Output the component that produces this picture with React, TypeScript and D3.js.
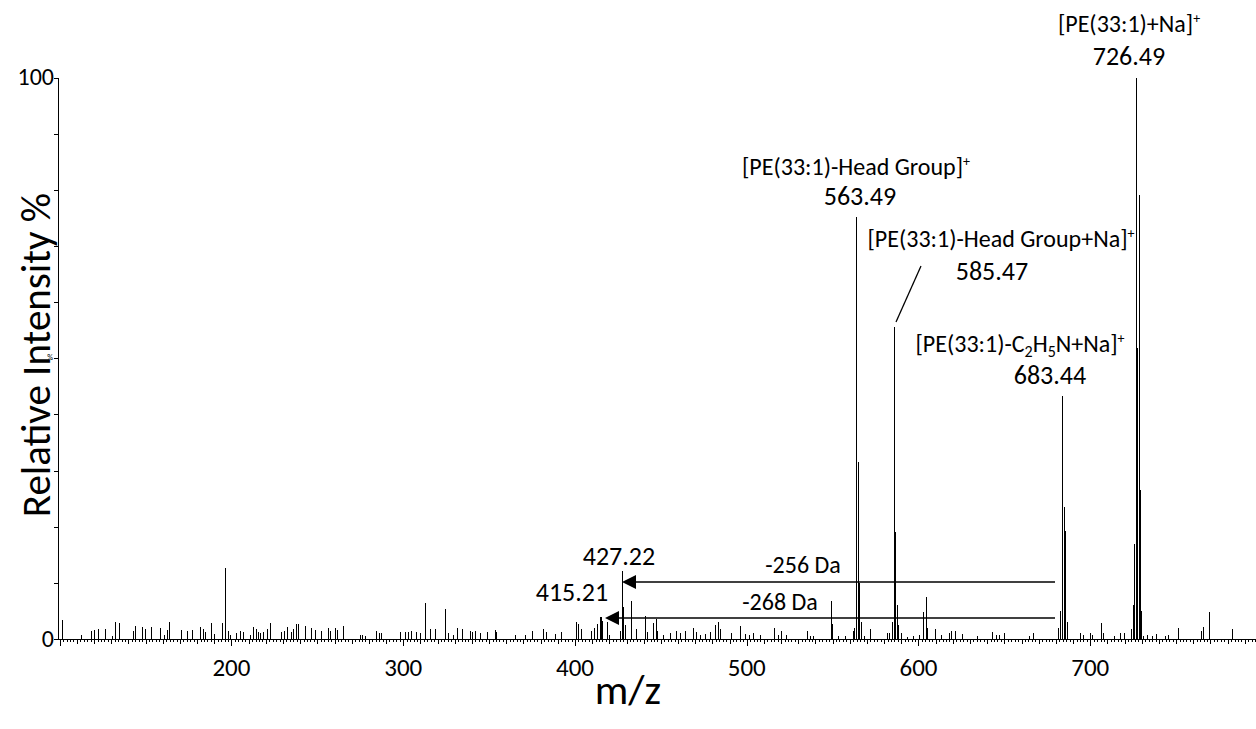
import React from "react";
import * as d3 from "d3";

// m/z and relative intensity (%) of every stick in the spectrum
const peakMz = [
  101.4, 112.2, 118.0, 120.0, 122.4, 126.3, 130.2, 132.3, 134.4, 142.4, 144.1, 148.0, 149.4, 153.4,
  158.3, 160.7, 162.2, 163.4, 170.4, 174.2, 177.1, 181.6, 183.2, 184.3, 187.8, 189.8, 194.2, 196.3,
  197.7, 199.0, 202.6, 204.9, 206.5, 210.7, 212.3, 214.2, 215.5, 216.9, 218.5, 220.4, 222.7, 228.6,
  230.5, 232.4, 234.4, 235.6, 237.5, 238.7, 242.7, 246.1, 248.5, 251.9, 256.3, 257.3, 260.2, 261.4,
  264.7, 274.7, 276.0, 277.5, 284.4, 286.0, 287.0, 298.0, 300.9, 302.5, 304.8, 307.5, 310.0, 312.6,
  315.5, 318.4, 324.6, 326.0, 329.0, 331.4, 334.1, 338.8, 340.3, 341.7, 344.5, 348.5, 353.3, 354.3,
  364.9, 370.8, 375.0, 381.4, 383.4, 388.2, 392.1, 400.5, 401.8, 403.5, 409.6, 411.2, 412.9, 414.4,
  415.21, 416.0, 418.7, 420.0, 426.3, 427.22, 428.2, 429.2, 432.9, 435.8, 440.6, 442.0, 445.5, 446.9,
  447.8, 451.0, 455.6, 458.7, 461.0, 464.0, 468.8, 470.5, 473.0, 475.5, 478.9, 481.4, 483.3, 484.7,
  491.1, 495.9, 498.7, 501.2, 503.7, 507.5, 515.7, 518.0, 520.2, 523.0, 534.8, 535.2, 537.0, 538.5,
  549.1, 549.9, 553.0, 557.0, 561.9, 562.5, 563.49, 564.49, 565.49, 566.4, 568.5, 572.0, 581.7, 583.0,
  584.5, 585.47, 586.47, 587.2, 588.3, 590.0, 593.5, 597.0, 600.5, 602.8, 604.2, 605.2, 609.9, 613.0,
  617.5, 619.0, 621.0, 625.5, 634.0, 643.0, 645.2, 647.0, 650.0, 664.5, 666.7, 681.5, 682.4, 683.44,
  684.44, 685.44, 686.4, 693.9, 695.5, 699.8, 701.3, 706.5, 707.6, 713.7, 717.6, 719.5, 724.0, 724.9,
  725.6, 726.49, 727.1, 727.5, 728.3, 729.1, 729.8, 731.0, 733.0, 736.0, 738.0, 743.5, 745.0, 751.2,
  764.7, 765.5, 769.2, 782.8,
];
const peakIntensity = [
  3.4, 0.7, 1.5, 1.6, 1.8, 1.8, 0.6, 3.0, 2.9, 1.4, 2.4, 2.2, 1.8, 2.1,
  2.0, 0.8, 1.6, 3.0, 1.6, 1.4, 1.6, 2.2, 1.8, 1.3, 2.9, 0.9, 2.8, 12.6,
  1.5, 0.8, 1.0, 1.4, 1.2, 0.8, 2.1, 1.7, 1.3, 1.1, 1.3, 1.8, 2.9, 1.2,
  1.4, 2.2, 1.2, 1.7, 2.6, 2.6, 2.3, 1.9, 1.6, 1.4, 2.0, 1.5, 2.0, 1.6,
  2.4, 0.8, 0.7, 0.6, 1.4, 1.1, 1.0, 1.2, 1.3, 1.2, 1.4, 1.3, 1.1, 6.5,
  1.7, 1.8, 5.3, 1.0, 0.7, 1.9, 1.7, 1.4, 1.2, 1.5, 1.0, 1.2, 1.6, 1.2,
  0.7, 0.8, 1.4, 1.7, 1.2, 0.9, 1.2, 3.0, 2.7, 1.8, 1.5, 1.9, 2.6, 4.0,
  4.0, 3.2, 3.1, 0.8, 1.5, 12.1, 5.7, 2.5, 6.8, 1.8, 4.1, 1.2, 2.8, 3.6,
  1.5, 0.8, 1.0, 1.4, 1.0, 1.4, 1.9, 1.3, 0.8, 0.9, 1.3, 2.5, 3.1, 1.7,
  1.0, 2.4, 0.9, 0.7, 1.0, 0.7, 1.9, 0.7, 1.4, 0.7, 1.4, 1.3, 0.5, 0.5,
  6.7, 2.6, 0.6, 0.5, 1.5, 2.0, 75.2, 31.5, 10.0, 3.1, 0.5, 1.7, 1.0, 1.0,
  3.0, 55.6, 19.0, 6.1, 2.5, 1.0, 0.4, 0.6, 0.8, 4.8, 7.5, 2.0, 1.7, 0.8,
  1.0, 1.4, 1.5, 0.9, 0.5, 1.2, 0.8, 0.8, 1.0, 0.6, 1.0, 2.0, 5.0, 43.3,
  23.5, 19.2, 3.0, 1.0, 0.8, 1.0, 0.8, 2.8, 1.0, 0.6, 1.0, 1.0, 1.8, 6.0,
  17.0, 100, 51.9, 42.6, 79.1, 26.6, 5.0, 0.6, 0.7, 0.6, 0.9, 0.5, 0.7, 1.9,
  1.5, 2.2, 4.8, 1.7,
];

const xDomain = [99, 800];
const yDomain = [0, 100];
const xTickLabels = [200, 300, 400, 500, 600, 700];
const yTickLabels = [0, 100];

const FONT = "Carlito, Lato, 'Open Sans', sans-serif";

export default function App() {
  const x = d3.scaleLinear().domain(xDomain).range([58, 1262]);
  const y = d3.scaleLinear().domain(yDomain).range([639, 77.5]);
  const minorX = d3.range(100, 801, 2);
  const yMinor = d3.range(0, 101, 10);
  const sticks = peakMz.map((m, i) => ({ m, v: peakIntensity[i] }));
  const px = (m: number) => Math.round(x(m)) + 0.5;

  return (
    <svg width={1256} height={729} style={{ position: "absolute", left: 0, top: 0, background: "#fff" }} fontFamily={FONT}>
      {/* sticks */}
      <g stroke="#000" strokeWidth={1} shapeRendering="crispEdges">
        {sticks.map((d, i) => (
          <line key={i} x1={px(d.m)} x2={px(d.m)} y1={y(0)} y2={y(d.v)} />
        ))}
      </g>
      {/* axes */}
      <g stroke="#000" strokeWidth={1} shapeRendering="crispEdges">
        <line x1={58.5} x2={58.5} y1={y(100)} y2={y(0)} />
        <line x1={58} x2={1256} y1={639.5} y2={639.5} />
        {minorX.map((t) => (
          <line key={t} x1={px(t)} x2={px(t)} y1={639.5} y2={t % 100 === 0 ? 646 : t % 10 === 0 ? 644 : 642} />
        ))}
        {yMinor.map((t) => (
          <line key={t} x1={54} x2={58} y1={Math.round(y(t)) + 0.5} y2={Math.round(y(t)) + 0.5} />
        ))}
      </g>
      {yTickLabels.map((t) => (
        <text key={t} x={54} y={y(t) + 2} textAnchor="end" dominantBaseline="middle" fontSize={24}>{t}</text>
      ))}
      <text x={53} y={y(50)} textAnchor="end" dominantBaseline="middle" fontSize={8}>%</text>
      {xTickLabels.map((t) => (
        <text key={t} x={x(t)} y={676} textAnchor="middle" fontSize={25}>{t}</text>
      ))}
      <text transform={`translate(50,${355}) rotate(-90)`} textAnchor="middle" fontSize={41}>Relative Intensity %</text>
      <text x={628} y={704} textAnchor="middle" fontSize={42}>m/z</text>

      {/* annotations */}
      <g fontSize={24}>
        <text x={1129} y={32} textAnchor="middle">[PE(33:1)+Na]<tspan fontSize={14} dy={-9}>+</tspan></text>
        <text x={856} y={175} textAnchor="middle">[PE(33:1)-Head Group]<tspan fontSize={14} dy={-9}>+</tspan></text>
        <text x={1001} y={247} textAnchor="middle">[PE(33:1)-Head Group+Na]<tspan fontSize={14} dy={-9}>+</tspan></text>
        <text x={1020} y={352} textAnchor="middle">
          [PE(33:1)-C<tspan fontSize={16} dy={5}>2</tspan><tspan dy={-5}>H</tspan><tspan fontSize={16} dy={5}>5</tspan><tspan dy={-5}>N+Na]</tspan><tspan fontSize={14} dy={-9}>+</tspan>
        </text>
      </g>
      <g fontSize={26}>
        <text x={1129} y={65} textAnchor="middle">726.49</text>
        <text x={860} y={205} textAnchor="middle">563.49</text>
        <text x={992} y={280} textAnchor="middle">585.47</text>
        <text x={1050} y={384} textAnchor="middle">683.44</text>
        <text x={619} y={565} textAnchor="middle">427.22</text>
        <text x={572} y={601} textAnchor="middle">415.21</text>
        <text x={803} y={573} textAnchor="middle" fontSize={24}>-256 Da</text>
        <text x={780} y={610} textAnchor="middle" fontSize={24}>-268 Da</text>
      </g>
      <line x1={921} y1={266} x2={896} y2={322} stroke="#000" strokeWidth={1.3} />
      {/* arrows */}
      <g stroke="#000" strokeWidth={1.5}>
        <line x1={634} x2={1055} y1={582} y2={582} />
        <line x1={617} x2={1055} y1={618} y2={618} />
      </g>
      <path d="M622,582 L636,575 L636,589 Z" fill="#000" />
      <path d="M605,618 L619,611 L619,625 Z" fill="#000" />
    </svg>
  );
}
